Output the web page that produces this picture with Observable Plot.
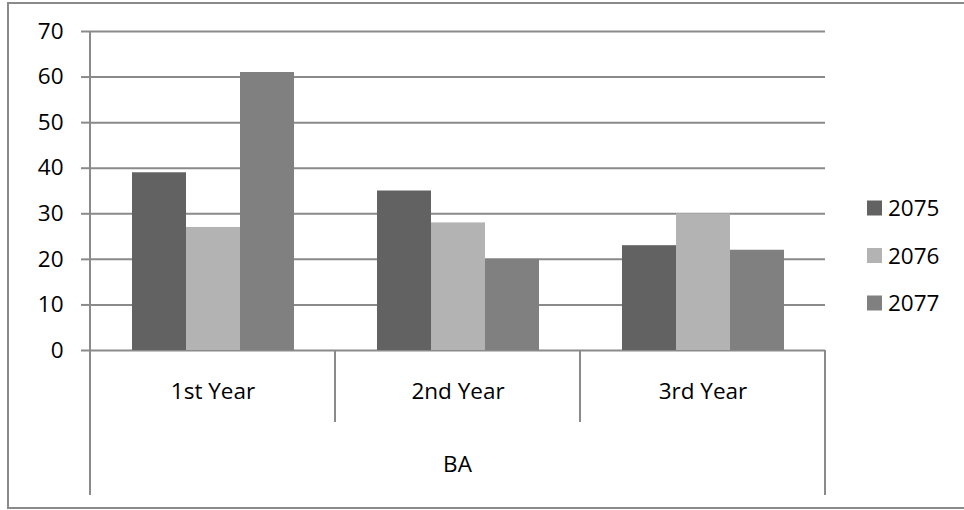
<!DOCTYPE html>
<html><head><meta charset="utf-8">
<script src="https://cdn.jsdelivr.net/npm/d3@7"></script>
<script src="https://cdn.jsdelivr.net/npm/@observablehq/plot@0.6"></script>
<style>body{margin:0;background:#fff} svg{display:block}</style>
</head><body><div id="chart"></div>
<script>
const categories = ["1st Year", "2nd Year", "3rd Year"];
const series = ["2075", "2076", "2077"];
const values2075 = [39, 35, 23];
const values2076 = [27, 28, 30];
const values2077 = [61, 20, 22];
const groupLabel = "BA";
const yTicks = [0, 10, 20, 30, 40, 50, 60, 70];
const colors = ["#626262", "#b3b3b3", "#808080"];

const data = [];
[values2075, values2076, values2077].forEach((vals, si) =>
  vals.forEach((v, ci) => data.push({category: categories[ci], series: series[si], value: v})));

const lineColor = "#8a8a8a";
const font = "'Open Sans', sans-serif";
const fs = "22.5px";

const chart = Plot.plot({
  width: 964, height: 510,
  marginLeft: 90, marginRight: 139, marginTop: 31, marginBottom: 160,
  style: {fontFamily: font, fontSize: fs, color: "#000", background: "#fff", overflow: "visible"},
  fx: {domain: categories, padding: 0, label: null},
  x: {domain: series, paddingInner: 0, paddingOuter: 0.768, axis: null},
  y: {domain: [0, 70], label: null},
  color: {domain: series, range: colors},
  marks: [
    Plot.gridY(yTicks, {stroke: lineColor, strokeOpacity: 1, strokeWidth: 2}),
    Plot.barY(data, {fx: "category", x: "series", y: "value", fill: "series"}),
    Plot.axisY(yTicks, {tickSize: 9, tickPadding: 18, stroke: lineColor, strokeWidth: 2, label: null}),
    Plot.axisFx({anchor: "bottom", tickSize: 0, tickPadding: 33, label: null})
  ]
});
document.getElementById("chart").append(chart);

const svg = d3.select(chart);
svg.selectAll("text").style("font-size", fs);
const fx = chart.scale("fx");
const y = chart.scale("y");
const y0 = y.apply(0);
const yTop = y.apply(70);
const bw = fx.bandwidth;
const left = fx.apply(categories[0]);
const right = fx.apply(categories[categories.length - 1]) + bw;
const extra = svg.append("g").attr("stroke", lineColor).attr("stroke-width", 2);
extra.append("line").attr("x1", left).attr("x2", left).attr("y1", yTop).attr("y2", y0 + 145);
extra.append("line").attr("x1", right).attr("x2", right).attr("y1", y0).attr("y2", y0 + 145);
categories.slice(1).forEach(c => {
  const x = fx.apply(c);
  extra.append("line").attr("x1", x).attr("x2", x).attr("y1", y0).attr("y2", y0 + 72);
});
extra.append("path").attr("fill", "none").attr("d", "M970,3H8V508H970");

svg.append("text").attr("x", (left + right) / 2).attr("y", y0 + 114)
  .attr("dy", "0.36em").attr("text-anchor", "middle")
  .style("font-family", font).style("font-size", fs).text(groupLabel);

const lg = svg.append("g").style("font-family", font).style("font-size", fs).attr("text-anchor", "start");
series.forEach((s, i) => {
  const cy = 208 + i * 47.5;
  lg.append("rect").attr("x", 867).attr("y", cy - 7.5).attr("width", 15).attr("height", 15).attr("fill", colors[i]);
  lg.append("text").attr("x", 888).attr("y", cy).attr("dy", "0.36em").attr("text-anchor", "start").text(s);
});
</script>
</body></html>
